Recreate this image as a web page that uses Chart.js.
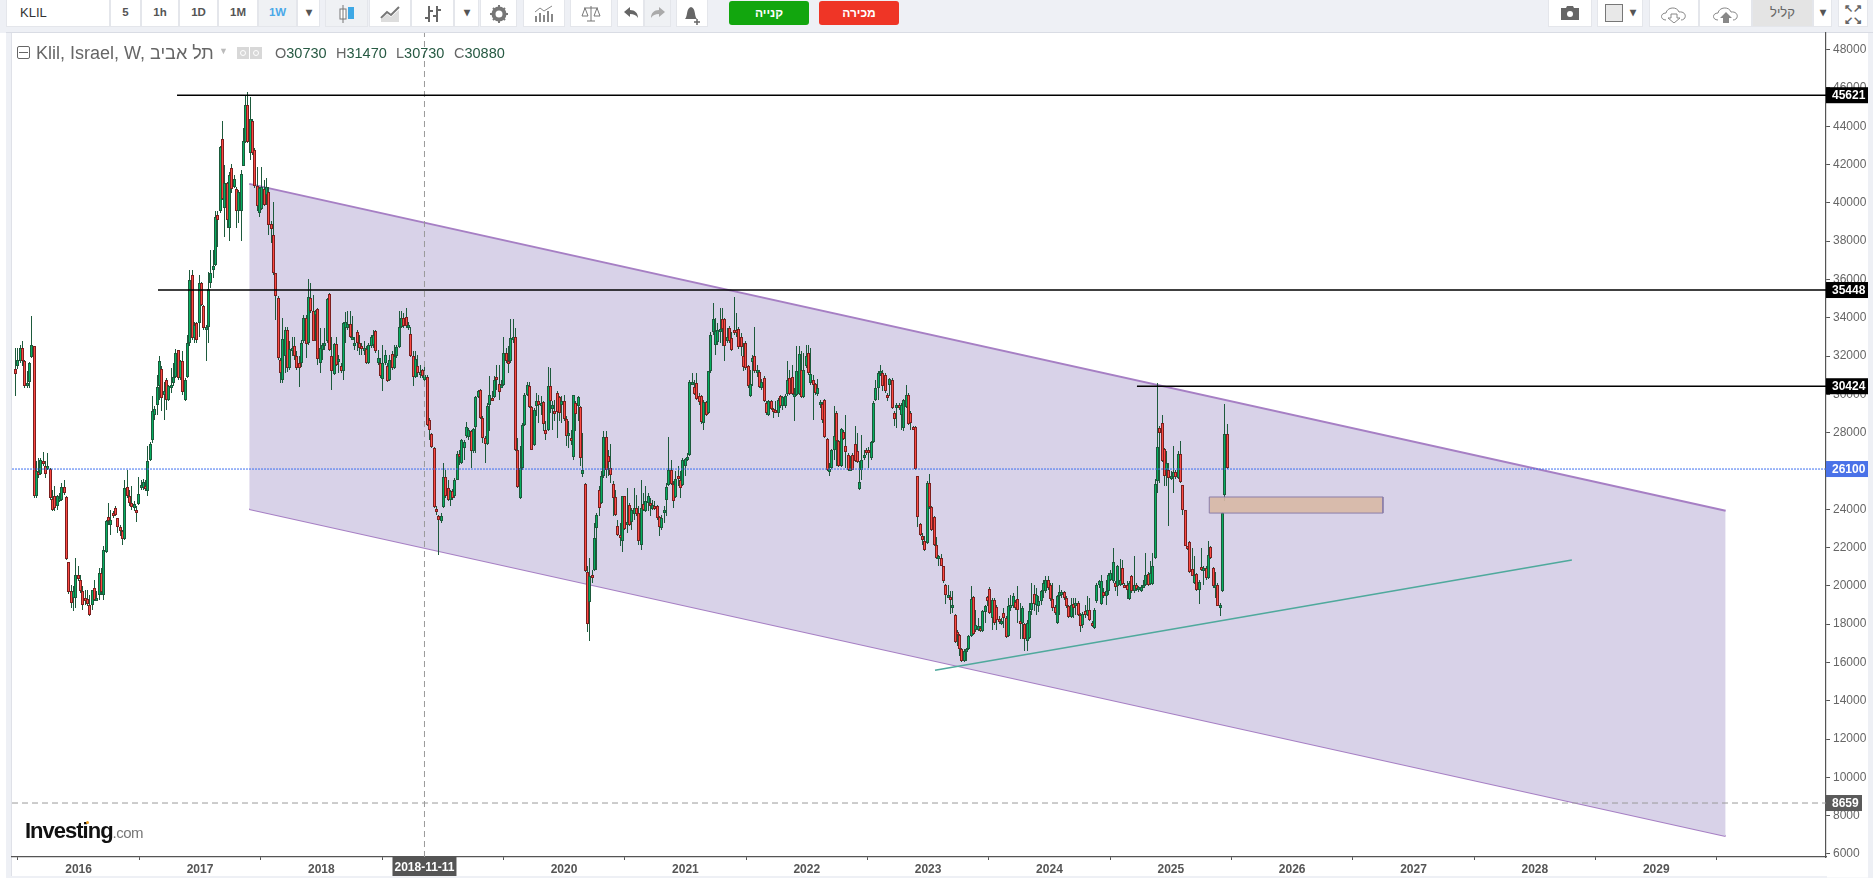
<!DOCTYPE html>
<html lang="he">
<head>
<meta charset="utf-8">
<title>KLIL</title>
<script src="https://cdn.jsdelivr.net/npm/chart.js@4/dist/chart.umd.min.js"></script>
<style>
  html, body { margin: 0; padding: 0; width: 1873px; height: 878px; overflow: hidden; background: #eef0f5; font-family: "Liberation Sans", Arial, sans-serif; }
  #strip { position: absolute; left: 0; top: 33px; width: 6px; height: 845px; background: #fff; }
  #plot { position: absolute; left: 11px; top: 33px; width: 1857px; height: 843px; background: #fff; border-left: 1px solid #dfe1e8; box-sizing: border-box; }
  #topline { position: absolute; left: 6px; top: 32px; width: 1867px; height: 1px; background: #d9dce4; }
  canvas { position: absolute; left: 0; top: 0; }
  .btn { position: absolute; top: 0; height: 27px; box-sizing: border-box; background: #fff; border: 1px solid #e4e6eb; border-top: 0; color: #555; font-size: 11.5px; font-weight: bold; text-align: center; line-height: 25px; }
  .btn.on { background: #eff1f4; }
  .btn svg { display: block; margin: 5px auto 0; }
  .trade { position: absolute; top: 1px; height: 24px; border-radius: 3px; color: #fff; font-size: 12px; font-weight: bold; text-align: center; line-height: 24px; }
  #head { position: absolute; left: 36px; top: 43px; font-size: 18px; color: #666; white-space: nowrap; }
  .ohlc { position: absolute; top: 45px; font-size: 14.5px; color: #666; white-space: nowrap; }
  .ohlc b { font-weight: normal; color: #275a43; }
  #minus { position: absolute; left: 17px; top: 46px; width: 13px; height: 13px; border: 1px solid #666; border-radius: 2px; box-sizing: border-box; }
  #minus:after { content: ""; position: absolute; left: 1px; right: 1px; top: 5px; height: 1px; background: #666; }
  #caret { position: absolute; left: 219px; top: 46px; font-size: 9px; color: #bbb; }
  .gbox { position: absolute; top: 47px; width: 12px; height: 12px; background: #d8d8d8; }
  .gbox:after { content: ""; position: absolute; left: 3px; top: 3px; width: 4px; height: 4px; border: 1px solid #fff; border-radius: 50%; }
  #logo { position: absolute; left: 25px; top: 818px; font-size: 22px; font-weight: bold; color: #111; letter-spacing: -1px; white-space: nowrap; }
  #logo span { font-size: 15px; font-weight: normal; color: #777; letter-spacing: -.5px; }
  #dot { position: absolute; left: 86px; top: 821px; width: 3px; height: 3px; border-radius: 50%; background: #f2a01e; }
</style>
</head>
<body>
<div id="strip"></div>
<div id="plot"></div>
<div id="topline"></div>
<canvas id="chart" width="1873" height="878"></canvas>

<div class="btn" style="left:6px;width:104px;text-align:left;padding-left:13px;font-weight:normal;color:#333;font-size:13px">KLIL</div>
<div class="btn" style="left:110px;width:31px">5</div>
<div class="btn" style="left:141px;width:38px">1h</div>
<div class="btn" style="left:179px;width:39px">1D</div>
<div class="btn" style="left:218px;width:40px">1M</div>
<div class="btn on" style="left:258px;width:39px;color:#4aa8e8">1W</div>
<div class="btn" style="left:297px;width:23px">▾</div>
<div class="btn on" style="left:325px;width:43px"><svg width="16" height="18"><rect x="1" y="4" width="6" height="10" fill="#fff" stroke="#777"/><line x1="4" y1="0" x2="4" y2="18" stroke="#777"/><rect x="9" y="2" width="6" height="12" fill="#3ea8e5"/></svg></div>
<div class="btn" style="left:369px;width:42px"><svg width="20" height="18"><path d="M1 13 L7 7 L11 10 L19 2" fill="none" stroke="#777" stroke-width="2"/><path d="M1 17 L1 14 L7 9 L11 12 L19 5 L19 17Z" fill="#ddd"/></svg></div>
<div class="btn" style="left:411px;width:43px"><svg width="18" height="18"><path d="M5 1V17M1 13H5M13 1V17M13 5H17M5 6H9M9 11H13" stroke="#666" stroke-width="2" fill="none"/></svg></div>
<div class="btn" style="left:454px;width:25px">▾</div>
<div class="btn" style="left:480px;width:37px"><svg width="18" height="18"><circle cx="9" cy="9" r="5.5" fill="none" stroke="#777" stroke-width="4"/><path d="M9 0V18M0 9H18M3 3L15 15M15 3L3 15" stroke="#777" stroke-width="2" stroke-dasharray="3 12"/></svg></div>
<div class="btn" style="left:523px;width:42px"><svg width="20" height="18"><path d="M2 17V11M6 17V8M10 17V10M14 17V6M18 17V9" stroke="#888" stroke-width="2"/><path d="M1 7L6 3L10 6L18 1" fill="none" stroke="#888"/></svg></div>
<div class="btn" style="left:570px;width:42px"><svg width="20" height="18"><path d="M10 1V16M3 3H17M6 16H14M1 11L4 3L7 11ZM13 11L16 3L19 11Z" fill="none" stroke="#777"/></svg></div>
<div class="btn" style="left:617px;width:27px"><svg width="16" height="16"><path d="M1 7L7 2V5C12 5 15 8 15 13C13 10 11 9 7 9V12Z" fill="#666"/></svg></div>
<div class="btn on" style="left:644px;width:27px"><svg width="16" height="16"><path d="M15 7L9 2V5C4 5 1 8 1 13C3 10 5 9 9 9V12Z" fill="#aaa"/></svg></div>
<div class="btn" style="left:676px;width:32px"><svg width="18" height="20"><path d="M2 14C5 11 3 3 8 2C13 3 11 11 14 14Z" fill="#666"/><path d="M14 14V20M11 17H17" stroke="#666" stroke-width="1.5"/></svg></div>
<div class="trade" style="left:729px;width:80px;background:#12a60e">קנייה</div>
<div class="trade" style="left:819px;width:80px;background:#ef3526">מכירה</div>

<div class="btn" style="left:1548px;width:44px"><svg width="20" height="16"><path d="M1 3H6L7 1H13L14 3H19V15H1Z" fill="#666"/><circle cx="10" cy="9" r="3" fill="#fff"/></svg></div>
<div class="btn" style="left:1597px;width:46px;text-align:right;padding-right:6px"><span style="position:absolute;left:7px;top:4px;width:16px;height:16px;background:#e8e8e8;border:1px solid #777"></span>▾</div>
<div class="btn" style="left:1649px;width:50px"><svg width="28" height="18"><path d="M6 15C0 15 0 8 6 8C7 2 17 1 19 7C27 6 27 15 21 15" fill="none" stroke="#888"/><path d="M11 9H17V13H20L14 18L8 13H11Z" fill="#fff" stroke="#888"/></svg></div>
<div class="btn" style="left:1699px;width:53px"><svg width="28" height="18"><path d="M6 15C0 15 0 8 6 8C7 2 17 1 19 7C27 6 27 15 21 15" fill="none" stroke="#888"/><path d="M11 18H17V13H20L14 7L8 13H11Z" fill="#888"/></svg></div>
<div class="btn" style="left:1752px;width:61px;background:#e4e4e4;font-weight:normal;font-size:13px;color:#666">קליל</div>
<div class="btn" style="left:1813px;width:19px">▾</div>
<div class="btn" style="left:1838px;width:30px;font-size:11px;line-height:12px;padding-top:2px;color:#666">↖↗<br>↙↘</div>

<div id="minus"></div>
<div id="head">Klil, Israel, W, <bdi>תל אביב</bdi></div>
<div id="caret">▼</div>
<div class="gbox" style="left:237px"></div>
<div class="gbox" style="left:250px"></div>
<div class="ohlc" style="left:275px">O<b>30730</b></div>
<div class="ohlc" style="left:336px">H<b>31470</b></div>
<div class="ohlc" style="left:396px">L<b>30730</b></div>
<div class="ohlc" style="left:454px">C<b>30880</b></div>
<div id="logo">Investing<span>.com</span></div>
<div id="dot"></div>

<script>
// KLIL weekly candles (10 candles a row)
var firstWeek = 2015.475;
var weekStep = 7 / 365.25;

var opens = [
  31320,31490,31720,32410,31720,30410,30620,31940,32500,24670,
  25920,25850,26530,26240,26150,26100,24530,24670,24150,24460,
  24500,25160,24630,21220,19710,19360,19360,20560,20290,19710,
  19360,19310,19020,19020,19880,19280,19540,20670,19520,21760,
  23590,23190,23830,24040,23540,23070,22840,22440,25160,24670,
  24320,24060,23970,24290,25100,25100,25240,24930,26550,27630,
  28930,29420,30410,31320,29980,30730,29720,30410,30590,30900,
  32290,30850,31720,29720,30930,32670,36240,32940,33720,33720,
  35810,34620,33460,33540,35810,36470,36760,39360,39550,43320,
  39720,41060,38710,41810,40850,40710,39550,39550,41950,43200,
  45120,42590,44260,42770,40890,39490,39690,40710,40420,40560,
  38900,38310,36330,35020,31770,30760,31980,33370,31370,32320,
  32500,32010,31630,31630,32760,33980,32670,35020,34330,34150,
  34450,31660,32320,32590,32760,35230,31980,31060,32620,31720,
  31490,31200,33460,33460,33670,32940,32590,33280,32670,32500,
  32360,32360,31630,32500,32590,33330,31630,31630,30790,31630,
  31490,30760,32100,31370,31980,32470,33540,33990,34030,33540,
  33140,31980,30900,31490,31070,31280,30760,30900,28640,27930,
  27200,24010,23630,23370,24120,25680,25110,24500,24950,24670,
  25540,26880,26410,27190,27800,27770,28070,27040,28290,29860,
  30240,28760,27720,27400,29460,29800,29860,30880,30540,30410,
  30500,32150,31750,31720,32880,32970,27070,24590,26150,28410,
  29980,30450,29340,27370,29370,29630,29410,29600,28150,28150,
  30410,29230,29110,30070,29860,29460,29630,28710,27800,27700,
  26710,29540,29370,29340,25840,25320,20700,19140,20580,20810,
  23020,24980,24320,25720,27750,26760,26150,25320,24620,23110,
  22670,22320,24670,23210,24200,23310,23770,24060,23800,22150,
  24290,23890,24320,24320,24010,24180,24150,23580,23020,23840,
  24460,25280,26060,25330,24640,25720,25540,25280,26240,26590,
  26850,30590,30380,30590,29890,29890,28500,29580,29020,31200,
  33230,32590,32710,33340,33930,33930,32760,33490,32940,33370,
  33370,33410,32990,31980,32680,31460,29890,31670,32010,31200,
  31160,30330,30850,29540,28930,29630,29230,29190,29020,29890,
  29370,29370,30030,30850,30880,29860,29980,30030,31280,29860,
  31460,32150,30590,30760,30520,30030,29540,29510,29680,27670,
  26030,26150,27110,29020,27540,26240,28010,27320,26850,26060,
  26850,27420,27020,25050,26060,26710,27070,27110,26670,27490,
  29720,30330,31110,31110,31020,29980,30500,30760,29020,29280,
  29460,28940,28240,29340,29980,29020,28290,28290,25720,23230,
  22620,22320,22240,25370,24110,23590,22130,21450,21450,21020,
  20060,19490,19400,18900,18490,17570,17430,16700,16090,16530,
  16700,17360,19400,17680,17710,17800,17640,18620,19420,19850,
  18320,19240,18900,18270,18060,18580,18320,17360,18930,18970,
  19140,19310,18180,18060,18010,17100,17280,18720,19590,19020,
  18930,19190,19710,19710,20320,20060,19310,18900,18060,19450,
  19590,19660,19360,18930,18370,19070,19020,19100,18490,17970,
  18670,18490,18720,18060,17800,19190,20060,19070,19660,19450,
  19710,20320,20230,20150,19970,20060,20930,20060,20060,19310,
  20500,19710,20030,19800,19710,19940,20060,20620,20110,20080,
  21450,25460,28240,28500,27140,26060,26060,25630,25660,25920,
  25630,26880,25250,23940,22060,22290,20880,20150,20620,19770,
  20980,20760,20930,20410,22030,20930,19940,20060,18900,19710,
  24760,27930
];
var closes = [
  31070,31800,32410,31720,30410,30590,31630,32590,24670,25980,
  25840,26580,26410,25840,26240,24580,23970,24060,24700,24580,
  25160,24840,21400,19690,19100,19710,20580,20350,19710,19000,
  19310,19070,18460,19800,19280,19360,20670,19660,21850,23370,
  23370,23420,23710,23700,23070,22840,22440,25100,24670,24320,
  24100,24290,23890,24790,25280,25400,25100,26530,27420,29140,
  29230,30380,31750,29800,30200,29720,30410,30500,30930,32150,
  30850,31720,30100,30730,32670,35980,32940,33630,32850,35810,
  34680,33460,33540,35490,36360,36710,39250,39110,42940,40190,
  41060,39080,41430,40710,41230,39600,40590,41500,43240,45120,
  43200,44370,42590,40890,39810,40770,40820,39890,40820,38830,
  38660,36330,35110,31890,31110,32880,33370,31370,32360,32400,
  32010,31370,31370,32670,33980,32620,35070,34330,32810,34330,
  31840,32410,32590,32670,34970,32290,31200,32620,31540,31840,
  31200,33720,33800,33670,33020,33020,32670,32670,32410,32360,
  32430,31630,32590,33020,33110,32240,31890,30970,31630,32050,
  30710,31770,31370,31980,32470,33540,33980,33580,33580,33610,
  31980,30900,31840,31110,31180,30970,31020,28410,28120,27250,
  24120,23840,23450,23630,25680,24670,24500,24950,24590,25540,
  26880,26760,27590,27510,28290,28120,27040,28190,29860,30150,
  28760,27720,27400,29370,29940,29750,30760,30810,30140,30500,
  32150,31720,31670,32940,32970,27070,25160,26150,28410,29980,
  30500,29340,27110,29190,29630,29460,29540,28450,27930,30410,
  29670,29420,29020,29070,29020,29630,28710,27800,27980,27590,
  29940,28970,29860,26670,26050,20760,18010,20530,20500,22500,
  23720,24060,25720,27750,26060,26450,25800,24590,23700,22670,
  22640,24670,22970,23310,23190,23970,24060,23770,22320,24060,
  23980,24410,24670,24180,24240,24060,23540,23050,23540,23960,
  25160,26060,25330,24410,25580,25580,25110,26590,26620,26730,
  30620,30670,30030,29770,29580,28530,29580,28940,31200,33110,
  33930,33290,33370,33410,33410,32500,33020,32760,32290,33200,
  33200,32470,32470,31420,31370,30410,30540,31890,31200,31280,
  30380,30620,29630,29020,29630,29230,29160,29110,29680,29370,
  29860,29890,30760,30030,30030,30010,31200,32120,29860,31280,
  31980,31110,31070,30480,30070,30310,29580,28670,27770,26060,
  26100,27070,27840,27540,26240,28190,27670,26970,26060,26150,
  26060,26500,26450,25420,26550,26810,26970,26930,27490,29540,
  30330,31110,31200,30410,30150,29860,30800,29280,28710,29460,
  29280,29460,29720,29980,28450,28500,28240,26100,23590,22650,
  22380,21890,25370,24110,22900,22150,21450,21540,21050,20240,
  19520,19540,19350,19000,17070,17450,16700,16090,16620,16700,
  17360,19310,17500,17970,17920,17640,18670,18930,19190,18580,
  19280,18060,18230,18150,18180,18320,17330,18930,19020,19450,
  18840,18720,18110,18840,17220,18060,18670,19100,19070,19540,
  19190,19710,20150,20320,19890,19310,18840,18580,19450,19660,
  19660,19360,18930,18370,19020,18840,19100,18490,17890,18550,
  18460,18720,18230,17940,18760,20060,20230,20230,19450,19710,
  20580,20670,21230,19940,21020,20320,20110,19970,19800,20150,
  19710,20060,19830,19920,19920,20060,20580,20060,20670,21050,
  25320,27250,27980,26500,25720,26410,25630,25720,25920,25660,
  26880,25400,23940,22100,21920,20700,20530,20580,19770,20200,
  20840,20930,20410,21630,21450,19970,20060,18970,19000,23800,
  27940,26150
];
var highs = [
  32410,32410,32590,32800,31800,31200,31670,34070,32500,26500,
  26670,26670,26980,26500,26930,26150,25020,25190,24760,24840,
  25370,25540,24680,21220,20060,19970,21450,21020,20580,19970,
  19800,19800,19540,19800,20320,19710,20930,20930,22060,23450,
  24320,23970,23890,24150,23540,23190,22930,25540,26060,25020,
  25190,24410,24150,25710,25540,25570,25540,27280,27510,29890,
  29370,31020,32010,31460,30670,30850,30500,31370,31630,32380,
  32330,31800,32240,30850,33110,36500,36500,33800,33800,36240,
  35890,34680,33630,36410,37540,37540,39550,39550,42990,44280,
  41980,41110,41630,42030,41460,40850,40680,41720,43900,45640,
  45810,45550,44370,42850,41860,40850,41860,41200,41290,40850,
  39030,40070,36360,35110,31890,33980,33540,33540,32760,33020,
  33020,32240,31980,32850,34150,34150,36010,35810,35200,34410,
  34500,33460,32670,33460,35020,35280,33020,32670,33020,32060,
  31630,33800,34290,34330,34330,34070,33020,33370,33110,32670,
  32760,32500,32670,33110,33370,33370,32320,31890,32590,32320,
  31630,32060,32240,32590,32590,34330,34330,34240,34500,33800,
  33540,32240,32240,32060,31540,31320,31540,31020,28760,27980,
  27250,24150,23710,23800,26410,26060,25540,25020,25050,25630,
  27020,27110,27680,27630,28530,28240,28150,28240,29890,30240,
  30290,28850,27800,29540,30940,30150,30940,31550,31550,30760,
  32990,32410,32500,33930,33930,33460,27720,27280,28500,30070,
  30670,30670,29370,29280,30070,29980,29890,29630,28590,31420,
  31370,29630,29720,30150,29890,29890,29980,28850,28590,28150,
  29980,29630,29930,29370,27980,25370,21020,21450,20840,23280,
  23800,25190,25980,28070,28070,27110,27420,25460,25020,23450,
  23280,24710,24710,25110,24320,24060,25110,24760,24150,25540,
  24840,25190,24840,24590,24500,24410,24240,23630,23710,24150,
  25370,27750,26590,25460,25980,26240,25980,26670,26670,26930,
  30760,31110,30760,31110,30070,29980,29720,29630,31230,33230,
  34760,33980,33720,34500,34500,33980,33460,33550,33280,35080,
  34240,33510,33200,32680,32760,31550,31280,32070,33510,31550,
  31280,30800,30940,29630,29720,29720,29280,29630,29800,29980,
  29930,30030,31720,31280,31550,30330,32500,32500,32240,32150,
  32590,32590,32410,31020,30590,30800,29680,29580,29750,27720,
  26410,27140,29370,29110,27630,28240,28150,28940,26930,26760,
  26930,28360,27980,26500,27890,27110,27190,27250,27540,29630,
  30760,31200,31550,31280,31110,30070,30850,30850,29110,29540,
  29540,29540,29750,30500,30070,29110,28360,28360,25750,23280,
  22760,22580,25460,25850,24180,23660,22550,21630,21680,21050,
  20110,20060,19710,19710,18550,17710,17500,16750,16700,16750,
  17450,19970,19450,18760,18320,17920,18760,19020,19490,19920,
  19370,19370,19020,18410,18320,18840,18410,19360,19540,19620,
  19280,19970,19100,18930,18060,18230,19100,20150,20060,19880,
  19450,19800,20320,20530,20530,20150,20150,19020,19540,20060,
  19800,19710,19450,19020,19360,19360,19360,19190,18580,18620,
  19020,19450,19360,18150,18840,20150,20290,20580,19890,20320,
  20670,20840,21970,20230,21110,21400,21370,20150,20230,20230,
  20580,21540,20150,20010,20060,20320,21710,20710,21280,21710,
  25580,30590,28330,28930,27190,27020,26410,25980,27280,26060,
  27020,27540,25280,23980,22100,22320,21970,21540,20670,20320,
  21970,21020,21020,22320,22100,20980,20710,20150,19100,23840,
  29510,28450
];
var lows = [
  29890,31300,31630,31460,30320,30320,30320,31890,24580,24580,
  25630,25800,26240,25630,26060,24500,23890,23890,23970,24360,
  24410,24760,21340,19600,18840,18670,18840,20230,19620,18750,
  19020,18930,18410,18750,19190,19190,19280,19540,19280,21710,
  23190,22670,23540,23630,22760,22620,22150,22410,24580,24150,
  23970,23890,23310,24240,25020,25020,24930,24700,26500,27450,
  28670,28930,29720,29110,28670,29190,29630,30060,30410,30850,
  30760,30760,29980,29630,30850,32500,32850,32670,32670,33020,
  34590,33370,31720,32670,35540,36070,36710,37720,39490,40160,
  38240,38680,38020,40500,40770,38680,38940,38020,41900,43110,
  43110,42240,42500,40770,39550,39250,39630,39810,39890,38330,
  37890,36240,33860,31800,30590,30590,31110,31190,31280,31980,
  31800,31280,30380,31420,32670,31890,32590,34240,32760,32760,
  31540,31110,31800,32320,32670,32240,30240,31020,31460,31110,
  31110,30760,32670,33370,32940,32850,32320,32240,32060,32060,
  32060,31600,31600,32410,32410,32150,31540,30850,30150,31540,
  30670,30720,31280,31320,31890,32410,33460,33460,33460,33370,
  31940,30410,30850,30930,30850,30850,30720,28330,27630,27200,
  24060,23720,21630,23280,24060,24590,24410,24150,24500,24590,
  25510,26330,26380,26590,27720,27630,26150,26930,26930,29800,
  28710,27460,26410,27370,28070,29630,29800,30240,29720,30330,
  30410,31630,31110,31630,32680,27020,25110,24530,26060,28360,
  29890,29280,27070,27320,28850,28500,28940,28070,27630,28070,
  29020,28150,28590,27720,28590,28500,28590,27280,27190,27370,
  26550,28070,28590,26240,25660,20700,17590,17100,20150,20760,
  20840,23630,24290,25630,25630,25720,25370,23630,23630,22580,
  22060,21750,22930,22760,23140,22930,23450,23630,22150,21850,
  23890,23840,23890,23630,23940,23980,23450,22580,22930,23280,
  23630,25190,25280,24060,24590,25190,24590,25190,25720,26500,
  26800,30500,29980,29720,29460,28470,28150,28880,28990,31110,
  33110,32070,32590,32680,32500,31720,32680,32680,32240,33110,
  33020,32360,31980,31200,31280,30330,29860,30410,31110,30900,
  30330,30240,29580,28930,28880,29160,28760,29020,28810,29280,
  29160,29280,29890,29980,29980,28590,29930,29980,29800,29800,
  31370,31020,30500,28670,29980,29890,29280,28500,27720,25980,
  25750,26100,26590,26240,26200,26200,27630,26150,25980,26030,
  26030,26450,26410,24990,25540,26590,26850,26150,26590,27460,
  29630,29720,30940,30150,30070,29630,29890,29230,28330,28240,
  29200,28150,28070,29280,28410,28150,28150,26060,23070,22580,
  22150,21800,22200,24010,22850,22100,21400,21020,21020,20150,
  19070,19370,18550,18580,17020,16880,16350,16040,16040,16060,
  16670,17330,17450,17570,17630,17570,17610,18060,18930,18550,
  17710,17970,17710,18030,17970,17800,17280,17330,18670,18840,
  18760,18060,17220,17220,16580,16580,17220,18490,18670,18490,
  18620,19020,19360,19620,19800,19190,18670,18500,18010,18490,
  19360,19280,18840,18320,18320,18320,18490,18440,17570,17800,
  18320,18410,18150,17850,17750,19100,19890,19020,19360,19020,
  19540,20230,20150,19710,19490,19970,20060,19890,19310,19280,
  19620,19620,19710,19660,19660,19890,20010,20010,20060,20040,
  21400,24850,25370,26450,25190,25190,23110,25540,24850,25580,
  25580,25370,23710,22060,21850,20670,20500,20110,19710,19070,
  20760,20060,20320,20360,21400,19890,19370,18930,18410,19660,
  24410,26100
];

var yearTicks = [2016, 2017, 2018, 2019, 2020, 2021, 2022, 2023, 2024, 2025, 2026, 2027, 2028, 2029];
var priceTicks = [6000, 8000, 10000, 12000, 14000, 16000, 18000, 20000, 22000, 24000, 26000, 28000, 30000, 32000, 34000, 36000, 38000, 40000, 42000, 44000, 46000, 48000];

// drawings on the chart: [year, price]
var channelTop = [[2017.406, 40990], [2029.572, 23920]];
var channelBottom = [[2017.406, 24010], [2029.572, 6940]];
var trendLine = [[2023.057, 15590], [2028.305, 21350]];
var level45621 = [[2016.811, 45621], [2030.399, 45621]];
var level35448 = [[2016.654, 35448], [2030.399, 35448]];
var level30424 = [[2024.721, 30424], [2030.399, 30424]];
var lastPrice = [[2015.451, 26100], [2030.399, 26100]];
var crossPrice = [[2015.451, 8659], [2030.399, 8659]];
var crossTime = [[2018.85, 5840], [2018.85, 48870]];
var boxTop = [[2025.317, 24640], [2026.748, 24640]];
var boxBottom = [[2025.317, 23800], [2026.748, 23800]];
var boxOutline = [[2025.317, 24640], [2026.748, 24640], [2026.748, 23800], [2025.317, 23800], [2025.317, 24640]];

function pts(list) {
  return list.map(function (p) { return { x: p[0], y: p[1] }; });
}

function lineSet(list, color, width, order, extra) {
  var ds = {
    type: "line",
    data: pts(list),
    borderColor: color,
    borderWidth: width,
    pointRadius: 0,
    tension: 0,
    fill: false,
    order: order,
  };
  Object.keys(extra || {}).forEach(function (k) { ds[k] = extra[k]; });
  return ds;
}

var weeks = opens.map(function (o, i) { return firstWeek + i * weekStep; });

var wickData = weeks.map(function (x, i) { return { x: x, y: [lows[i], highs[i]] }; });
var bodyData = weeks.map(function (x, i) { return { x: x, y: [opens[i], closes[i]] }; });
var bodyFill = opens.map(function (o, i) { return closes[i] >= o ? "#06ae60" : "#fb4a42"; });
var bodyEdge = opens.map(function (o, i) { return closes[i] >= o ? "#1d5a3c" : "#7c1f1f"; });

// the site draws candles on whole pixels, so snap what the scales gave us
var snapPlugin = {
  id: "snap",
  beforeDatasetsDraw: function (chart) {
    [2, 3].forEach(function (idx) {
      chart.getDatasetMeta(idx).data.forEach(function (bar) {
        bar.x = Math.round(bar.x) + 0.5;
        var top = Math.round(Math.min(bar.y, bar.base));
        var bottom = Math.round(Math.max(bar.y, bar.base));
        if (idx === 3 && bottom - top < 3) bottom = top + 3;
        bar.y = top;
        bar.base = bottom;
      });
    });
  },
};

// price / date boxes sitting on the axes
var priceTags = [
  { value: 45621, text: "45621", bg: "#000", right: 1868 },
  { value: 35448, text: "35448", bg: "#000", right: 1868 },
  { value: 30424, text: "30424", bg: "#000", right: 1868 },
  { value: 26100, text: "26100", bg: "#4a72e8", right: 1868 },
  { value: 8659, text: "8659", bg: "#5a5a5a", right: 1862 },
];
var dateTag = { value: 2018.85, text: "2018-11-11" };

var tagPlugin = {
  id: "tags",
  afterDraw: function (chart) {
    var c = chart.ctx, y = chart.scales.y, x = chart.scales.x;
    c.save();
    // 6000 label is cut off by the time axis
    c.fillStyle = "#fff";
    c.fillRect(y.left + 1, y.bottom + 0.5, y.width - 1, 20);
    c.font = "bold 12px 'Liberation Sans', Arial, sans-serif";
    c.textBaseline = "middle";
    priceTags.forEach(function (t) {
      var py = y.getPixelForValue(t.value);
      c.fillStyle = t.bg;
      c.fillRect(y.left, py - 8, t.right - y.left, 16);
      c.fillStyle = "#fff";
      c.textAlign = "left";
      c.fillText(t.text, y.left + 6, py + 0.5);
    });
    var px = x.getPixelForValue(dateTag.value);
    c.fillStyle = "#555";
    c.fillRect(px - 32, x.top, 64, 19);
    c.fillStyle = "#fff";
    c.textAlign = "center";
    c.fillText(dateTag.text, px, x.top + 10.5);
    c.restore();
  },
};

new Chart(document.getElementById("chart").getContext("2d"), {
  type: "bar",
  plugins: [snapPlugin, tagPlugin],
  data: {
    datasets: [
      lineSet(channelTop, "#a67fc4", 2, 20, { fill: "+1", backgroundColor: "#d8d2e8" }),
      lineSet(channelBottom, "#a67fc4", 2, 20),
      { type: "bar", data: wickData, backgroundColor: "#1d5a3c", barThickness: 1, grouped: false, borderWidth: 0, inflateAmount: 0, order: 11 },
      { type: "bar", data: bodyData, backgroundColor: bodyFill, borderColor: bodyEdge, borderWidth: 1, borderSkipped: false, barThickness: 3, grouped: false, inflateAmount: 0, order: 10 },
      lineSet(boxTop, "rgba(0,0,0,0)", 0, 6, { fill: "+1", backgroundColor: "rgba(216,184,165,0.9)" }),
      lineSet(boxBottom, "rgba(0,0,0,0)", 0, 6),
      lineSet(boxOutline, "#8a7ea8", 1, 5),
      lineSet(trendLine, "#4fa99c", 1.5, 4),
      lineSet(lastPrice, "#3d6ff0", 1, 3, { borderDash: [2, 1] }),
      lineSet(crossPrice, "#9a9a9a", 1, 3, { borderDash: [6, 4] }),
      lineSet(crossTime, "#9a9a9a", 1, 3, { borderDash: [6, 4] }),
      lineSet(level45621, "#000", 1.6, 2),
      lineSet(level35448, "#000", 1.6, 2),
      lineSet(level30424, "#000", 1.6, 2),
    ],
  },
  options: {
    responsive: false,
    animation: false,
    layout: { padding: { left: 12, right: 5, top: 33, bottom: 0 } },
    plugins: { legend: { display: false }, tooltip: { enabled: false } },
    scales: {
      x: {
        type: "linear",
        min: 2015.451,
        max: 2030.399,
        offset: false,
        afterFit: function (s) { s.height = 21; },
        afterBuildTicks: function (s) { s.ticks = yearTicks.map(function (v) { return { value: v }; }); },
        grid: { drawOnChartArea: false, drawTicks: true, tickLength: 3, color: "#555" },
        border: { color: "#555", width: 1.2 },
        ticks: {
          color: "#555",
          maxRotation: 0,
          autoSkip: false,
          padding: 2,
          font: { family: "'Liberation Sans', Arial, sans-serif", size: 12, weight: "bold" },
          callback: function (v) { return String(v); },
        },
      },
      y: {
        position: "right",
        min: 5840,
        max: 48870,
        afterFit: function (s) { s.width = 42; },
        afterBuildTicks: function (s) { s.ticks = priceTicks.map(function (v) { return { value: v }; }); },
        grid: { drawOnChartArea: false, drawTicks: true, tickLength: 4, color: "#555" },
        border: { color: "#555", width: 1.2 },
        ticks: {
          color: "#666",
          autoSkip: false,
          padding: 3,
          font: { family: "'Liberation Sans', Arial, sans-serif", size: 12 },
          callback: function (v) { return String(v); },
        },
      },
    },
  },
});
</script>
</body>
</html>
